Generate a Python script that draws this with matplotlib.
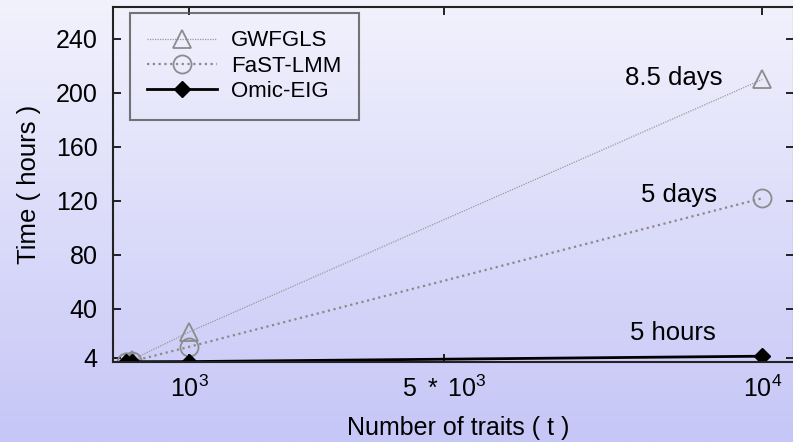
import numpy as np
import matplotlib
matplotlib.use("Agg")
import matplotlib.pyplot as plt

plt.rcParams['font.family'] = ['Liberation Sans', 'DejaVu Sans']
plt.rcParams['mathtext.fontset'] = 'custom'
plt.rcParams['mathtext.rm'] = 'Liberation Sans'
plt.rcParams['mathtext.it'] = 'Liberation Sans:italic'
plt.rcParams['mathtext.default'] = 'regular'

# data
traits = [10, 100, 1000, 10000]
gwfgls = [0.5, 2.3, 23, 210]
fastlmm = [0.4, 1.2, 12, 122]
omic_eig = [0.8, 0.9, 1.0, 5.0]
series_names = ["GWFGLS", "FaST-LMM", "Omic-EIG"]
annotations = ["8.5 days", "5 days", "5 hours"]
xtick_vals = [1000, 5000, 10000]
xtick_labels = [r"$10^{3}$", r"$5\ *\ 10^{3}$", r"$10^{4}$"]
ytick_vals = [4, 40, 80, 120, 160, 200, 240]

fig = plt.figure(figsize=(7.93, 4.42), dpi=100)

# gradient background
bg = fig.add_axes([0, 0, 1, 1], zorder=-10)
top = np.array([242, 242, 253]) / 255
bot = np.array([198, 198, 247]) / 255
t = np.linspace(0, 1, 256)[:, None]
grad = top[None, None, :] * (1 - t[:, :, None]) + bot[None, None, :] * t[:, :, None]
grad = np.repeat(grad, 2, axis=1)
bg.imshow(grad, aspect='auto', extent=[0, 1, 0, 1])
bg.set_axis_off()

ax = fig.add_axes([113 / 793, 1 - 362 / 442, (794 - 113) / 793, (362 - 7) / 442])
ax.set_facecolor('none')

gray = '#8c8c8c'
l1, = ax.plot(traits, gwfgls, color='#9a9a9a', lw=0.9, ls=(0, (1, 1)),
              marker='^', ms=13, mfc='none', mec=gray, mew=1.3, label=series_names[0])
l2, = ax.plot(traits, fastlmm, color='#8a8a8a', lw=1.6, ls=(0, (1, 1.6)),
              marker='o', ms=13, mfc='none', mec=gray, mew=1.3, label=series_names[1])
l3, = ax.plot(traits, omic_eig, color='black', lw=2.0, ls='-',
              marker='D', ms=8.5, mfc='black', mec='black', label=series_names[2])

ax.set_xlim(-200, 10500)
ax.set_ylim(0.7, 263.7)
ax.set_xticks(xtick_vals)
ax.set_xticklabels(xtick_labels)
ax.set_yticks(ytick_vals)
ax.tick_params(direction='in', length=6, width=1.2, top=True, right=True,
               labelsize=18, colors='black')
ax.tick_params(axis='y', pad=11)
ax.tick_params(axis='x', pad=10)
for s in ax.spines.values():
    s.set_linewidth(1.5)
    s.set_color('#222222')

ax.set_xlabel("Number of traits ( t )", fontsize=18)
ax.xaxis.set_label_coords(0.507, -0.152)
ax.set_ylabel("Time ( hours )", fontsize=18.5, labelpad=11)

series_vals = [gwfgls, fastlmm, omic_eig]
offsets = [(-40, 1), (-45, 3), (-46, 23)]
for name, vals, off in zip(annotations, series_vals, offsets):
    ax.annotate(name, xy=(traits[-1], vals[-1]), xytext=off, textcoords='offset pixels',
                ha='right', va='center', fontsize=18.5)

leg = ax.legend(loc='upper left', bbox_to_anchor=(0.025, 0.983), fontsize=16,
                frameon=True, fancybox=False, handlelength=3.15, labelspacing=0.2,
                borderpad=0.78, handletextpad=0.62, borderaxespad=0)
leg.get_frame().set_facecolor('none')
leg.get_frame().set_edgecolor('#555555')
leg.get_frame().set_linewidth(1.5)

fig.savefig("out.png", dpi=100)
